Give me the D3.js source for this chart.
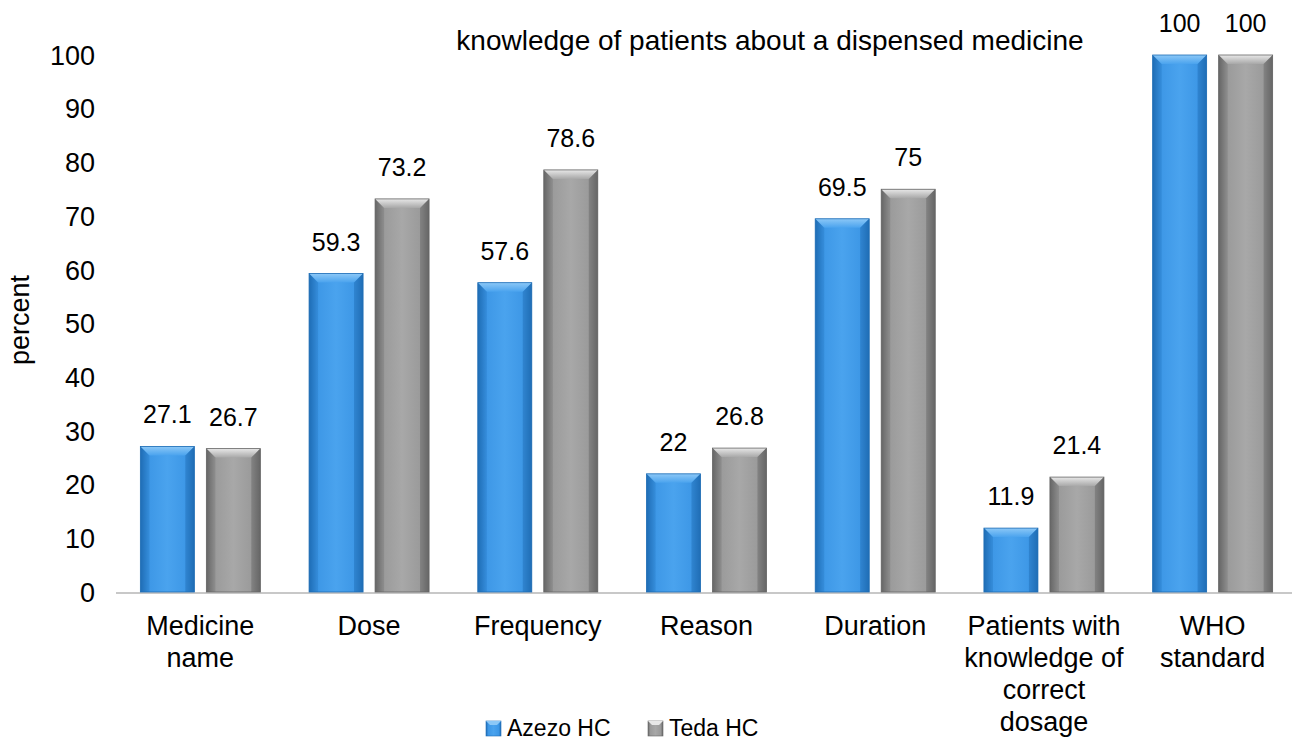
<!DOCTYPE html>
<html>
<head>
<meta charset="utf-8">
<script src="https://cdn.jsdelivr.net/npm/d3@7"></script>
<style>
body{margin:0;background:#fff;}
text{font-family:"Liberation Sans",Arial,sans-serif;}
</style>
</head>
<body>
<div id="plot"></div>
<script>
// chart data
var categories = [["Medicine","name"],["Dose"],["Frequency"],["Reason"],["Duration"],["Patients with","knowledge of","correct","dosage"],["WHO","standard"]];
var seriesNames = ["Azezo HC","Teda HC"];
var azezo = [27.1,59.3,57.6,22,69.5,11.9,100];
var teda = [26.7,73.2,78.6,26.8,75,21.4,100];
var yTicks = [0,10,20,30,40,50,60,70,80,90,100];

var W = 1297, H = 742;
var svg = d3.select('#plot').append('svg').attr('width',W).attr('height',H);
var defs = svg.append('defs');

var colors = [
	{base:'#3d97e6', light:'#8cc8f7', dark:'#1f6db5', mid:'#4aa3ee'},
	{base:'#9a9a9a', light:'#e8e8e8', dark:'#666666', mid:'#a8a8a8'}
];
colors.forEach(function(c,i){
	var g = defs.append('linearGradient').attr('id','grad'+i).attr('x1','0').attr('x2','1').attr('y1','0').attr('y2','0');
	g.append('stop').attr('offset','0').attr('stop-color',c.dark);
	g.append('stop').attr('offset','0.15').attr('stop-color',c.base);
	g.append('stop').attr('offset','0.5').attr('stop-color',c.mid);
	g.append('stop').attr('offset','0.85').attr('stop-color',c.base);
	g.append('stop').attr('offset','1').attr('stop-color',c.dark);
	var t = defs.append('linearGradient').attr('id','top'+i).attr('x1','0').attr('x2','0').attr('y1','0').attr('y2','1');
	t.append('stop').attr('offset','0').attr('stop-color',c.light);
	t.append('stop').attr('offset','1').attr('stop-color',c.mid);
});

var x = d3.scaleBand().domain(d3.range(categories.length)).range([116,1297]).paddingInner(0).paddingOuter(0);
var y = d3.scaleLinear().domain([0,100]).range([592,55]);

// y axis labels
svg.selectAll('.ytick').data(yTicks).enter().append('text')
	.attr('x',95).attr('y',function(d){return y(d);}).attr('dy','0.36em')
	.attr('text-anchor','end').attr('font-size',27).attr('fill','#000')
	.text(function(d){return d;});

svg.append('text').attr('transform','translate(29,'+320+') rotate(-90)')
	.attr('text-anchor','middle').attr('font-size',27).text('percent');

// baseline
svg.append('line').attr('x1',116).attr('x2',1292).attr('y1',y(0)+1).attr('y2',y(0)+1)
	.attr('stroke','#c8c8c8').attr('stroke-width',2);

var barW = 54, gap = 12;
var series = [azezo,teda];

function drawBar(g, bx, val, c, i){
	var top = y(val), bot = y(0), bev = 9;
	g.append('rect').attr('x',bx).attr('y',top).attr('width',barW).attr('height',bot-top)
		.attr('fill','url(#grad'+i+')');
	// top bevel
	g.append('polygon').attr('points',[[bx,top],[bx+barW,top],[bx+barW-bev,top+bev],[bx+bev,top+bev]].join(' '))
		.attr('fill','url(#top'+i+')');
	// side bevels
	g.append('polygon').attr('points',[[bx,top],[bx+bev,top+bev],[bx+bev,bot],[bx,bot]].join(' '))
		.attr('fill',c.dark).attr('opacity',0.3);
	g.append('polygon').attr('points',[[bx+barW,top],[bx+barW-bev,top+bev],[bx+barW-bev,bot],[bx+barW,bot]].join(' '))
		.attr('fill',c.dark).attr('opacity',0.5);
	g.append('rect').attr('x',bx).attr('y',top).attr('width',barW).attr('height',bot-top)
		.attr('fill','none').attr('stroke',c.dark).attr('stroke-width',0.8);
}

series.forEach(function(vals,si){
	var g = svg.append('g');
	vals.forEach(function(v,ci){
		var cx = x(ci)+x.bandwidth()/2;
		var bx = si==0 ? cx-gap/2-barW : cx+gap/2;
		drawBar(g,bx,v,colors[si],si);
		svg.append('text').attr('x',bx+barW/2).attr('y',y(v)-23)
			.attr('text-anchor','middle').attr('font-size',25)
			.attr('font-family','"Open Sans",sans-serif').text(v);
	});
});

// category labels
categories.forEach(function(lines,ci){
	var t = svg.append('text').attr('x',x(ci)+x.bandwidth()/2).attr('y',635)
		.attr('text-anchor','middle').attr('font-size',27);
	lines.forEach(function(l,li){
		t.append('tspan').attr('x',x(ci)+x.bandwidth()/2).attr('dy',li==0?0:32).text(l);
	});
});

// title
svg.append('text').attr('x',770).attr('y',50).attr('text-anchor','middle')
	.attr('font-size',28).text('knowledge of patients about a dispensed medicine');

// legend
var legX = [486,648];
seriesNames.forEach(function(n,i){
	var lg = svg.append('g').attr('transform','translate('+legX[i]+',721)');
	lg.append('rect').attr('width',15).attr('height',15).attr('fill','url(#grad'+i+')').attr('stroke',colors[i].dark).attr('stroke-width',0.6);
	lg.append('polygon').attr('points','0,0 15,0 11,4 4,4').attr('fill',colors[i].light);
	lg.append('text').attr('x',21).attr('y',15).attr('font-size',23)
		.attr('font-family','"Open Sans",sans-serif').text(n);
});
</script>
</body>
</html>
